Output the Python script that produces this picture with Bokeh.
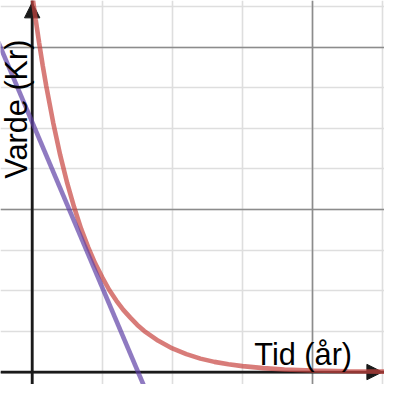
import math
from bokeh.plotting import figure
from bokeh.models import Range1d, Grid, SingleIntervalTicker, Span, Arrow, NormalHead, Label
from bokeh.embed import file_html
from bokeh.resources import INLINE

# Value curve: time in years, value in grid units
tid = [0.0, 0.05, 0.1, 0.15, 0.2, 0.3, 0.4, 0.5, 0.6, 0.7, 0.8, 0.9, 1.0, 1.1, 1.2,
       1.3, 1.4, 1.5, 1.6, 1.8, 2.0, 2.2, 2.4, 2.6, 2.8, 3.0, 3.3, 3.6, 4.0, 4.5, 5.1]
varde = [9.3, 8.68, 8.10, 7.55, 7.05, 6.14, 5.34, 4.65, 4.05, 3.52, 3.07, 2.67, 2.33, 2.02, 1.76,
         1.53, 1.34, 1.16, 1.01, 0.77, 0.58, 0.44, 0.33, 0.25, 0.19, 0.145, 0.096, 0.063, 0.036, 0.018, 0.008]

# Tangent line (two points)
tangent_t = [-0.5, 1.7]
tangent_v = [8.19, -0.77]

x_label = "Tid (år)"
y_label = "Varde (Kr)"

W = H = 384
s = W / 400.0

p = figure(width=W, height=H, output_backend="svg", toolbar_location=None,
           x_range=Range1d(-0.452, 5.027), y_range=Range1d(-0.307, 9.149),
           x_axis_type=None, y_axis_type=None, min_border=0,
           outline_line_color=None, background_fill_color="white")

# minor grid
p.add_layout(Grid(dimension=0, ticker=SingleIntervalTicker(interval=1),
                  grid_line_color="#dedede", grid_line_width=1.6))
p.add_layout(Grid(dimension=1, ticker=SingleIntervalTicker(interval=1),
                  grid_line_color="#dedede", grid_line_width=1.6))
# major grid
p.add_layout(Grid(dimension=0, ticker=SingleIntervalTicker(interval=4),
                  grid_line_color="#8c8c8c", grid_line_width=1.6))
p.add_layout(Grid(dimension=1, ticker=SingleIntervalTicker(interval=4),
                  grid_line_color="#8c8c8c", grid_line_width=1.6))

# axes
p.add_layout(Span(location=0, dimension="height", line_color="#1a1a1a", line_width=2.8, level="underlay"))
p.add_layout(Span(location=0, dimension="width", line_color="#1a1a1a", line_width=2.8, level="underlay"))
p.add_layout(Arrow(end=NormalHead(size=16 * s, fill_color="#1a1a1a", line_color="#1a1a1a", line_width=1),
                   x_start=0, y_start=8.0, x_end=0, y_end=9.10,
                   line_alpha=0, level="underlay"))
p.add_layout(Arrow(end=NormalHead(size=16 * s, fill_color="#1a1a1a", line_color="#1a1a1a", line_width=1),
                   x_start=4.0, y_start=0, x_end=4.995, y_end=0,
                   line_alpha=0, level="underlay"))

p.line(tid, varde, line_color="#c74440", line_alpha=0.7, line_width=4.6)
p.line(tangent_t, tangent_v, line_color="#6042a6", line_alpha=0.7, line_width=4.6)

p.add_layout(Label(x=3.17, y=0.42, text=x_label, text_font="Liberation Sans",
                   text_font_size=f"{32 * s:.1f}px", text_color="black",
                   text_align="left", text_baseline="alphabetic"))
p.add_layout(Label(x=-0.23, y=4.76, text=y_label, angle=math.pi / 2, text_font="Liberation Sans",
                   text_font_size=f"{32 * s:.1f}px", text_color="black",
                   text_align="left", text_baseline="alphabetic"))

open("out.html", "w").write(file_html(p, INLINE))
